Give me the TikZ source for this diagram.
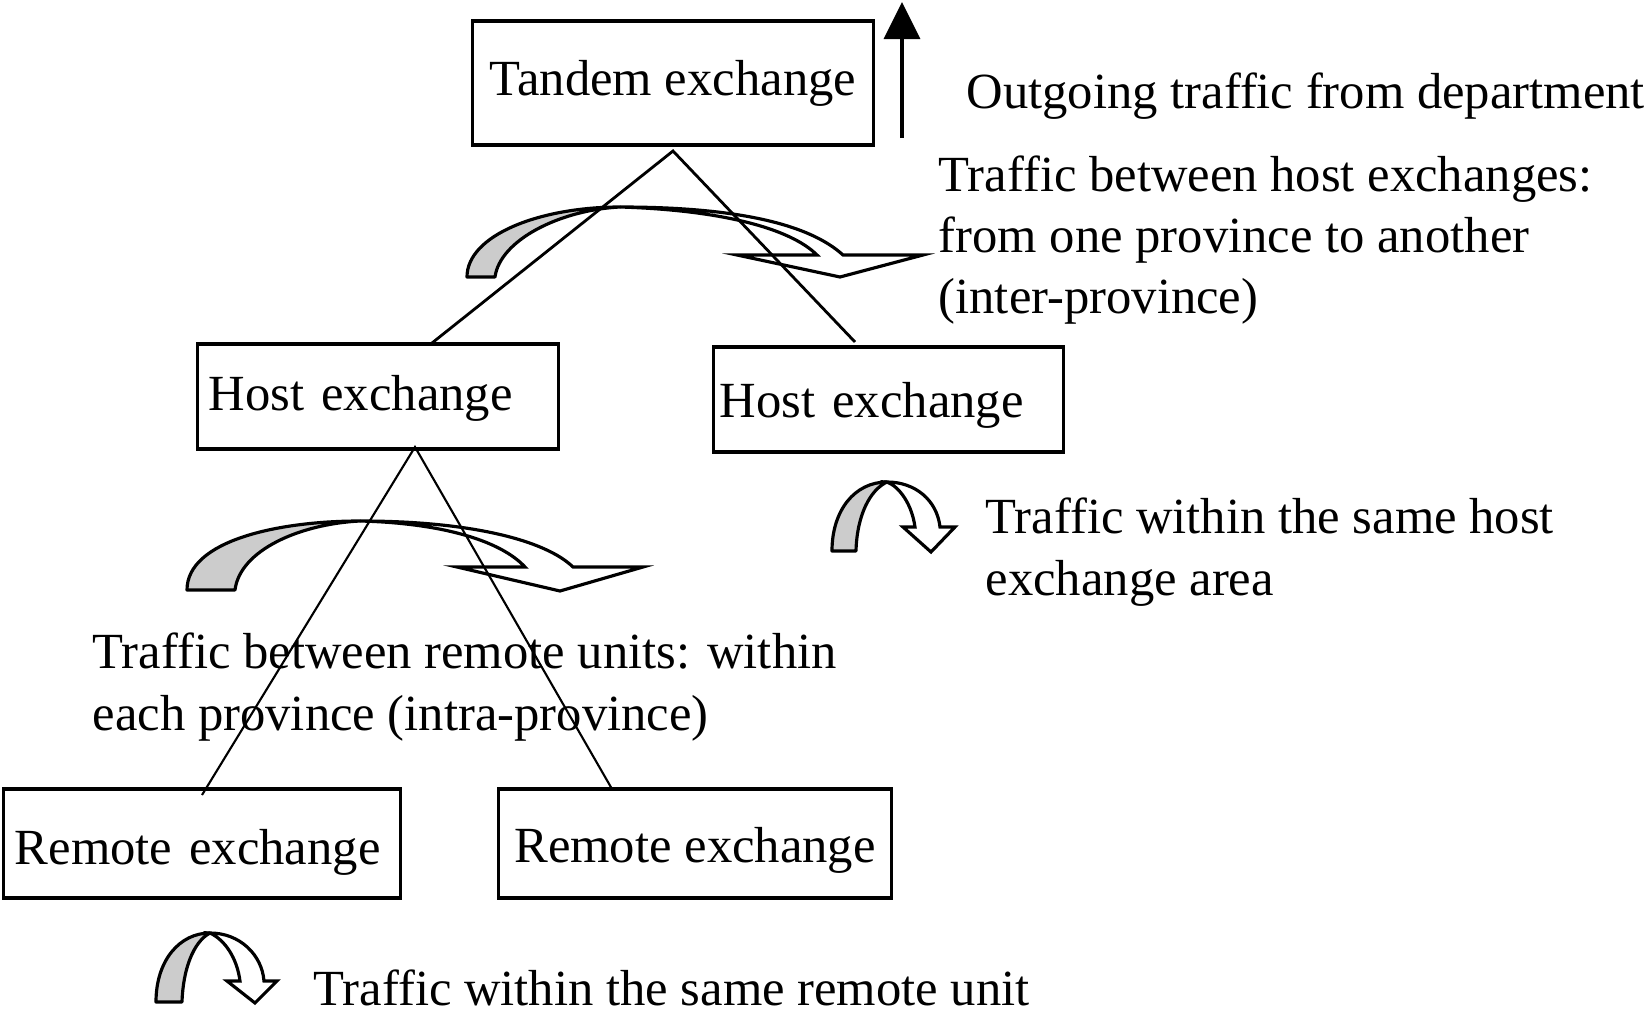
\documentclass[tikz,border=0pt]{standalone}
\usepackage{fontspec}
\setmainfont{Liberation Serif}
\usetikzlibrary{arrows.meta}

\begin{document}
\begin{tikzpicture}[x=0.01cm, y=-0.01cm, >={Triangle[length=3.7mm,width=3.6mm]},
    every node/.style={font=\fontsize{14.4}{17.4}\selectfont},
    exch/.style={draw, line width=0.9pt, inner ysep=0pt, text depth=3pt, align=left},
    lbl/.style={inner sep=0pt, align=left, anchor=base west},
    bandback/.style={draw, fill=gray!40, line width=0.9pt, line join=round},
    bandfront/.style={draw, fill=white, line width=0.9pt, line join=miter},
    link/.style={line width=0.8pt},
    sublink/.style={line width=0.6pt}]
    \useasboundingbox (0,0) rectangle (1647,1012);

    % exchanges
    \node[exch, minimum width=40mm, minimum height=12.4mm, align=center] (tandem) at (673,83) {Tandem exchange};
    \node[exch, minimum width=36mm, minimum height=10.5mm, inner xsep=1.1mm, text width=33.8mm, text height=11.2pt] (hostA) at (378,396.5) {Host exchange};
    \node[exch, minimum width=34.9mm, minimum height=10.5mm, inner xsep=0.6mm, text width=33.7mm, text height=13pt] (hostB) at (888.5,399.5) {Host exchange};
    \node[exch, minimum width=39.6mm, minimum height=10.9mm, inner xsep=1.1mm, text width=37.4mm, text height=15.2pt] (remA) at (202,843.5) {Remote exchange};
    \node[exch, minimum width=39.2mm, minimum height=10.9mm, align=center, text height=14pt] (remB) at (695,843.5) {Remote exchange};

    % outgoing arrow
    \coordinate (upfoot) at (902,138);
    \coordinate (uptip) at (902,2);
    \draw[->, line width=0.9pt] (upfoot) -- (uptip);

    % curved arrow between host exchanges
    \draw[bandback] (467,277) .. controls (467,235) and (540,207) .. (620,207)
        .. controls (560,210) and (500,240) .. (495,277) -- cycle;
    \draw[bandfront] (620,207) .. controls (740,207) and (810,225) .. (843,255)
        -- (923,255) -- (840,277) -- (737,255) -- (817,255)
        .. controls (790,228) and (720,210) .. (620,207) -- cycle;

    % curved arrow between remote units
    \draw[bandback] (187,590) .. controls (187,540) and (280,521) .. (360,521)
        .. controls (300,524) and (240,550) .. (235,590) -- cycle;
    \draw[bandfront] (360,521) .. controls (470,521) and (545,540) .. (573,567)
        -- (643,567) -- (560,591) -- (457,567) -- (525,567)
        .. controls (500,540) and (440,523) .. (360,521) -- cycle;

    % within host exchange area
    \draw[bandback] (832,551) .. controls (832,510) and (855,482) .. (887,482)
        .. controls (870,490) and (857,515) .. (856,551) -- cycle;
    \draw[bandfront] (887,482) .. controls (915,482) and (937,500) .. (940,527)
        -- (955,527) -- (931,552) -- (903,527) -- (915,527)
        .. controls (912,505) and (900,487) .. (887,482) -- cycle;

    % within remote unit
    \draw[bandback] (156,1002) .. controls (156,960) and (180,933) .. (210,933)
        .. controls (193,942) and (183,970) .. (182,1002) -- cycle;
    \draw[bandfront] (210,933) .. controls (240,933) and (262,955) .. (264,981)
        -- (277,981) -- (255,1003) -- (227,981) -- (240,981)
        .. controls (237,958) and (225,940) .. (210,933) -- cycle;

    % tree lines
    \coordinate (tapex) at (673,151);
    \coordinate (tleft) at (432,343);
    \coordinate (tright) at (855,342);
    \coordinate (hapex) at (415,447);
    \coordinate (hleft) at (202,795);
    \coordinate (hright) at (612,789);
    \draw[link] (tleft) -- (tapex) -- (tright);
    \draw[sublink] (hleft) -- (hapex) -- (hright);

    % labels (base = last line)
    \node[lbl] (outtxt) at (966,109) {Outgoing traffic from department};
    \node[lbl] (hosttxt) at (938,314) {Traffic between host exchanges:\\from one province to another\\(inter-province)};
    \node[lbl] (samehost) at (985,595) {Traffic within the same host\\exchange area};
    \node[lbl] (remtxt) at (92,730) {Traffic between remote units: within\\each province (intra-province)};
    \node[lbl] (samerem) at (313,1005) {Traffic within the same remote unit};
\end{tikzpicture}
\end{document}
